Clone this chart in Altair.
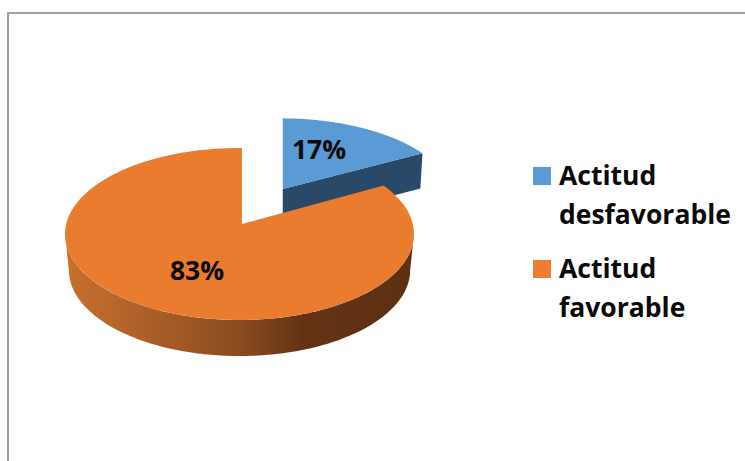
import numpy as np
import pandas as pd
import altair as alt

# Chart values
categories = ["Actitud desfavorable", "Actitud favorable"]
percentages = [17, 83]
top_colors = ["#5b9bd5", "#ea7c30"]
legend_colors = ["#5b9bd5", "#ed7d31"]
legend_lines = [["Actitud", "desfavorable"], ["Actitud", "favorable"]]

FONT = "Open Sans"
TEXT = "#0a0a0a"

# The tilted disc lives in unit coordinates; the x and y scales squash it into an ellipse.
x_scale = alt.Scale(domain=[-1, 1], range=[65, 414])
y_scale = alt.Scale(domain=[-1, 1], range=[320, 148])
APEX = np.array([0.014, 0.116])  # apparent centre of the tilted disc
EXPLODE = np.array([0.234, 0.407])  # how far the small slice is pulled out


def rim_point(theta):
    """Where a ray from the apex at angle theta (clockwise from top) meets the unit circle."""
    d = np.array([np.sin(theta), np.cos(theta)])
    b = APEX @ d
    s = -b + np.sqrt(b * b - (APEX @ APEX) + 1)
    return APEX + s * d


def sweep(start_pct, end_pct, n=120):
    angles = np.radians(np.linspace(start_pct, end_pct, n) * 3.6)
    return np.array([rim_point(a) for a in angles])


def frame(points):
    pts = np.asarray(points)
    return pd.DataFrame({"i": np.arange(len(pts)), "x": pts[:, 0], "y": pts[:, 1]})


def polygon(points, fill):
    return (
        alt.Chart(frame(points))
        .mark_line(fill=fill, stroke=None, strokeWidth=0, interpolate="linear", clip=False)
        .encode(
            x=alt.X("x:Q", scale=x_scale, axis=None),
            y=alt.Y("y:Q", scale=y_scale, axis=None),
            order="i:Q",
        )
    )


small, large = percentages

# Small slice, pulled away towards the upper right and slightly shrunk by perspective
small_arc = sweep(0, small)
small_top = np.vstack([[APEX], small_arc])
small_top = APEX + EXPLODE + (small_top - APEX) * [0.985, 0.93]
small_depth = np.array([0, -0.41])
small_face = np.array(
    [small_top[0], small_top[-1], small_top[-1] + small_depth + [-0.012, 0], small_top[0] + small_depth]
)

# Large slice and its curved outer wall
large_arc = sweep(small, small + large)
large_top = np.vstack([[APEX], large_arc])
t = np.linspace(np.pi, 2 * np.pi, 160)
wall_upper = np.column_stack([np.cos(t), np.sin(t)])
wall_lower = np.column_stack([0.978 * np.cos(t[::-1]), np.sin(t[::-1]) - 0.419])
wall = np.vstack([wall_upper, wall_lower])

wall_gradient = alt.LinearGradient(
    gradient="linear",
    x1=0, x2=1, y1=0, y2=0,
    stops=[
        alt.GradientStop(color="#c9702c", offset=0.0),
        alt.GradientStop(color="#b0622a", offset=0.2),
        alt.GradientStop(color="#8a4c20", offset=0.5),
        alt.GradientStop(color="#633314", offset=0.68),
        alt.GradientStop(color="#5e3012", offset=1.0),
    ],
)

layers = [
    polygon(small_face, "#2a4968"),
    polygon(small_top, top_colors[0]),
    polygon(wall, wall_gradient),
    polygon(large_top, top_colors[1]),
]


def text_at(label, px, py, size=26.5, align="left"):
    return (
        alt.Chart(pd.DataFrame({"t": [label]}))
        .mark_text(font=FONT, fontWeight="bold", fontSize=size, color=TEXT, align=align, baseline="alphabetic")
        .encode(x=alt.value(px), y=alt.value(py), text="t:N")
    )


# Value labels
layers.append(text_at(f"{percentages[0]}%", 319, 159, align="center"))
layers.append(text_at(f"{percentages[1]}%", 197, 280, align="center"))

# Legend: swatches and two-line labels
for idx, (name, lines) in enumerate(zip(categories, legend_lines)):
    top = 176 + idx * 93
    layers.append(
        alt.Chart(pd.DataFrame({"c": [name]}))
        .mark_square(size=324, color=legend_colors[idx], opacity=1)
        .encode(x=alt.value(542), y=alt.value(top))
    )
    layers.append(text_at(lines[0], 559, top + 9))
    layers.append(text_at(lines[1], 559, top + 48))

# Thin frame around the plot, open on the right and at the bottom
layers.append(
    alt.Chart(pd.DataFrame({"a": [0]}))
    .mark_rule(color="#a0a0a0", strokeWidth=2)
    .encode(x=alt.value(8), x2=alt.value(745), y=alt.value(13))
)
layers.append(
    alt.Chart(pd.DataFrame({"a": [0]}))
    .mark_rule(color="#a0a0a0", strokeWidth=2)
    .encode(x=alt.value(8), y=alt.value(12), y2=alt.value(461))
)

chart = (
    alt.layer(*layers)
    .properties(width=745, height=461, padding=0, autosize=alt.AutoSizeParams(type="none"), background="white")
    .configure_view(stroke=None)
)

chart.save("out.html", embed_options={"renderer": "svg", "actions": False})
